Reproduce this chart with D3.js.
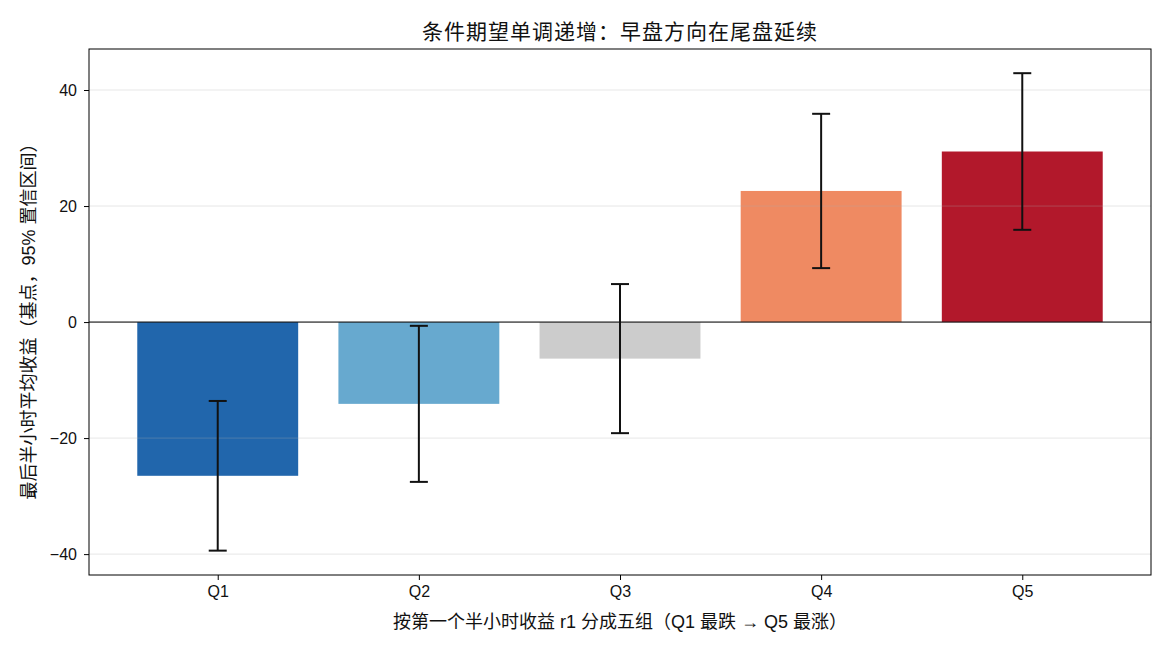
<!DOCTYPE html>
<html>
<head>
<meta charset="utf-8">
<script src="https://cdn.jsdelivr.net/npm/d3@7"></script>
<style>
  body { margin: 0; background: #fff; }
  svg text { font-family: "Liberation Sans", "Noto Sans CJK SC", sans-serif; fill: #111; }
</style>
</head>
<body>
<svg id="chart" width="1170" height="650"></svg>
<script>
// quintile groups by first half-hour return
var groups = ["Q1", "Q2", "Q3", "Q4", "Q5"];
var meanBps = [-26.5, -14.1, -6.3, 22.6, 29.4];
var ciHalf = [12.9, 13.45, 12.85, 13.3, 13.5];
var barColors = ["#2166ac", "#67a9cf", "#cccccc", "#ef8a62", "#b2182b"];
var yTicks = [-40, -20, 0, 20, 40];

var titleText = "条件期望单调递增：早盘方向在尾盘延续";
var xLabel = "按第一个半小时收益 r1 分成五组（Q1 最跌 → Q5 最涨）";
var yLabel = "最后半小时平均收益（基点，95% 置信区间）";

var svg = d3.select("#chart");
var m = { left: 89, right: 1151, top: 49, bottom: 575 };

var x = d3.scaleLinear().domain([-0.64, 4.64]).range([m.left, m.right]);
var y = d3.scaleLinear().domain([-43.6, 47.07]).range([m.bottom, m.top]);
var barW = x(0.8) - x(0);

var plot = svg.append("g");

// bars
plot.selectAll("rect.bar")
  .data(groups)
  .enter().append("rect")
  .attr("class", "bar")
  .attr("x", function(d, i) { return x(i) - barW / 2; })
  .attr("width", barW)
  .attr("y", function(d, i) { return y(Math.max(0, meanBps[i])); })
  .attr("height", function(d, i) { return Math.abs(y(meanBps[i]) - y(0)); })
  .attr("fill", function(d, i) { return barColors[i]; });

// grid on top of bars, faint
plot.selectAll("line.grid")
  .data(yTicks)
  .enter().append("line")
  .attr("class", "grid")
  .attr("x1", m.left).attr("x2", m.right)
  .attr("y1", function(d) { return y(d); })
  .attr("y2", function(d) { return y(d); })
  .attr("stroke", "#b0b0b0")
  .attr("stroke-opacity", 0.3)
  .attr("stroke-width", 1);

// zero line
plot.append("line")
  .attr("x1", m.left).attr("x2", m.right)
  .attr("y1", y(0)).attr("y2", y(0))
  .attr("stroke", "#000").attr("stroke-width", 1);

// error bars
var err = plot.selectAll("g.err")
  .data(groups)
  .enter().append("g")
  .attr("class", "err")
  .attr("stroke", "#111")
  .attr("stroke-width", 2);

err.append("line")
  .attr("x1", function(d, i) { return x(i); })
  .attr("x2", function(d, i) { return x(i); })
  .attr("y1", function(d, i) { return y(meanBps[i] + ciHalf[i]); })
  .attr("y2", function(d, i) { return y(meanBps[i] - ciHalf[i]); });

[1, -1].forEach(function(s) {
  err.append("line")
    .attr("x1", function(d, i) { return x(i) - 9; })
    .attr("x2", function(d, i) { return x(i) + 9; })
    .attr("y1", function(d, i) { return y(meanBps[i] + s * ciHalf[i]); })
    .attr("y2", function(d, i) { return y(meanBps[i] + s * ciHalf[i]); });
});

// axes
var xAxis = d3.axisBottom(x)
  .tickValues(d3.range(groups.length))
  .tickFormat(function(d) { return groups[d]; })
  .tickSizeInner(5).tickSizeOuter(0).tickPadding(6);
var yAxis = d3.axisLeft(y)
  .tickValues(yTicks)
  .tickFormat(function(d) { return d < 0 ? "\u2212" + Math.abs(d) : d; })
  .tickSizeInner(5).tickSizeOuter(0).tickPadding(7);

var gx = svg.append("g").attr("transform", "translate(0," + m.bottom + ")").call(xAxis);
var gy = svg.append("g").attr("transform", "translate(" + m.left + ",0)").call(yAxis);
[gx, gy].forEach(function(g) {
  g.select(".domain").remove();
  g.selectAll(".tick line").attr("stroke", "#000");
  g.selectAll(".tick text").style("font-size", "16px")
    .style("font-family", "\"Liberation Sans\", \"Noto Sans CJK SC\", sans-serif").attr("fill", "#111");
});

// frame
svg.append("rect")
  .attr("x", m.left).attr("y", m.top)
  .attr("width", m.right - m.left).attr("height", m.bottom - m.top)
  .attr("fill", "none").attr("stroke", "#000").attr("stroke-width", 1);

// labels
svg.append("text")
  .attr("x", (m.left + m.right) / 2).attr("y", 39)
  .attr("text-anchor", "middle")
  .style("font-size", "21px")
  .style("letter-spacing", "1px")
  .text(titleText);

svg.append("text")
  .attr("x", (m.left + m.right) / 2).attr("y", 628)
  .attr("text-anchor", "middle")
  .style("font-size", "18px")
  .text(xLabel);

svg.append("text")
  .attr("transform", "translate(35," + ((m.top + m.bottom) / 2 + 5) + ") rotate(-90)")
  .attr("text-anchor", "middle")
  .style("font-size", "18px")
  .text(yLabel);
</script>
</body>
</html>
